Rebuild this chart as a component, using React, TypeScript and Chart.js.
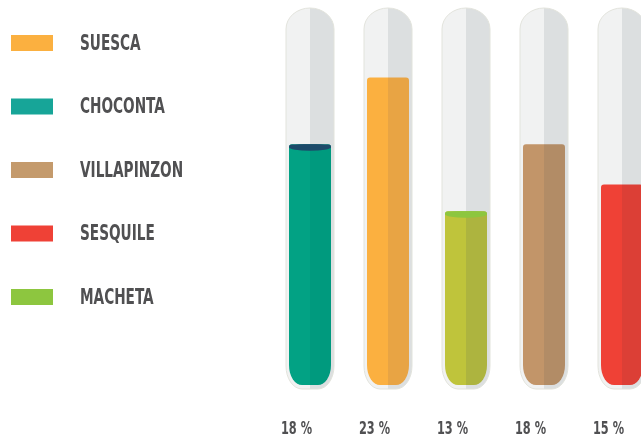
import React, { useEffect, useRef } from 'react';
import { Chart, registerables } from 'chart.js';

Chart.register(...registerables);

// ---- data ----
const categories = ['CHOCONTA', 'SUESCA', 'MACHETA', 'VILLAPINZON', 'SESQUILE'];
const values = [18, 23, 13, 18, 15];
const tickLabels = values.map((v) => `${v} %`);
const yMax = 28.2;

const fillLeft = ['#02a284', '#fbb040', '#bfc43b', '#c29569', '#ef4136'];
const fillRight = ['#009a7e', '#e8a444', '#adb43f', '#b28c66', '#dc3f36'];
const capColors: (string | null)[] = ['#1d4a6a', null, '#8dc63f', null, null];

const legendNames = ['SUESCA', 'CHOCONTA', 'VILLAPINZON', 'SESQUILE', 'MACHETA'];
const legendColors = ['#fbb040', '#17a598', '#c49a6c', '#ef4136', '#8dc63f'];

const FONT_FAMILY = "'Liberation Sans Narrow', 'DejaVu Sans Condensed', sans-serif";
const TEXT_COLOR = '#505052';

const tubePlugin = {
  id: 'tubes',
  beforeDatasetsDraw(chart: any) {
    const ctx: CanvasRenderingContext2D = chart.ctx;
    const meta = chart.getDatasetMeta(0);
    const yScale = chart.scales.y;
    const top = yScale.getPixelForValue(yMax);
    meta.data.forEach((el: any, i: number) => {
      const { x, y, base, width } = el.getProps(['x', 'y', 'base', 'width'], true);
      const R = width / 2 + 3;
      const bottom = base + 4;
      // tube
      ctx.save();
      ctx.beginPath();
      (ctx as any).roundRect(x - R, top, 2 * R, bottom - top, [
        { x: R, y: 21 },
        { x: R, y: 21 },
        { x: 16, y: 23 },
        { x: 16, y: 23 },
      ]);
      ctx.save();
      ctx.clip();
      ctx.fillStyle = '#f1f2f2';
      ctx.fillRect(x - R - 1, top - 1, R + 1, bottom - top + 2);
      ctx.fillStyle = '#dcdfe0';
      ctx.fillRect(x, top - 1, R + 1, bottom - top + 2);
      ctx.restore();
      ctx.strokeStyle = '#e2e3dc';
      ctx.lineWidth = 1;
      ctx.stroke();
      ctx.restore();

      // liquid
      const r = width / 2;
      ctx.save();
      ctx.beginPath();
      (ctx as any).roundRect(x - r, y, 2 * r, base - y, [
        3,
        3,
        { x: 13, y: 20 },
        { x: 13, y: 20 },
      ]);
      ctx.clip();
      ctx.fillStyle = fillLeft[i];
      ctx.fillRect(x - r - 1, y - 1, r + 1, base - y + 2);
      ctx.fillStyle = fillRight[i];
      ctx.fillRect(x, y - 1, r + 1, base - y + 2);
      const cap = capColors[i];
      if (cap) {
        ctx.fillStyle = cap;
        ctx.beginPath();
        ctx.ellipse(x, y + 3, r, 3.5, 0, 0, Math.PI * 2);
        ctx.fill();
        ctx.fillRect(x - r, y, 2 * r, 3);
      }
      ctx.restore();
    });
  },
  afterDraw(chart: any) {
    const ctx: CanvasRenderingContext2D = chart.ctx;
    const xScale = chart.scales.x;
    const area = chart.chartArea;
    ctx.save();
    // legend
    legendNames.forEach((name, i) => {
      const cy = 43 + i * 63.5;
      ctx.fillStyle = legendColors[i];
      ctx.fillRect(11, cy - 8, 42, 16);
      ctx.save();
      ctx.translate(80, cy);
      ctx.scale(0.69, 1);
      ctx.font = `bold 22px ${FONT_FAMILY}`;
      ctx.fillStyle = TEXT_COLOR;
      ctx.textBaseline = 'middle';
      ctx.textAlign = 'left';
      ctx.fillText(name, 0, 1);
      ctx.restore();
    });
    // category value labels under the tubes
    tickLabels.forEach((label, i) => {
      const px = xScale.getPixelForValue(i) - 13.5;
      ctx.save();
      ctx.translate(px, area.bottom + 44);
      ctx.scale(0.7, 1);
      ctx.font = `bold 18px ${FONT_FAMILY}`;
      ctx.fillStyle = TEXT_COLOR;
      ctx.textBaseline = 'middle';
      ctx.textAlign = 'center';
      ctx.fillText(label, 0, 0);
      ctx.restore();
    });
    ctx.restore();
  },
};

export default function App() {
  const canvasRef = useRef<HTMLCanvasElement | null>(null);

  useEffect(() => {
    document.body.style.overflow = 'hidden';
    const canvas = canvasRef.current;
    if (!canvas) return;
    const chart = new Chart(canvas, {
      type: 'bar',
      data: {
        labels: categories,
        datasets: [
          {
            label: 'Porcentaje',
            data: values,
            backgroundColor: 'rgba(0,0,0,0)',
            borderWidth: 0,
            barThickness: 42,
          },
        ],
      },
      options: {
        responsive: false,
        animation: false,
        events: [],
        layout: { padding: { left: 271, right: 19, top: 8, bottom: 56 } },
        plugins: {
          legend: { display: false },
          tooltip: { enabled: false },
        },
        scales: {
          x: {
            display: false,
          },
          y: {
            display: false,
            min: 0,
            max: yMax,
          },
        },
      },
      plugins: [tubePlugin],
    });
    return () => chart.destroy();
  }, []);

  return (
    <div
      style={{
        position: 'fixed',
        left: 0,
        top: 0,
        width: 641,
        height: 441,
        overflow: 'hidden',
        background: '#ffffff',
      }}
    >
      <canvas ref={canvasRef} width={680} height={441} style={{ display: 'block' }} />
    </div>
  );
}
